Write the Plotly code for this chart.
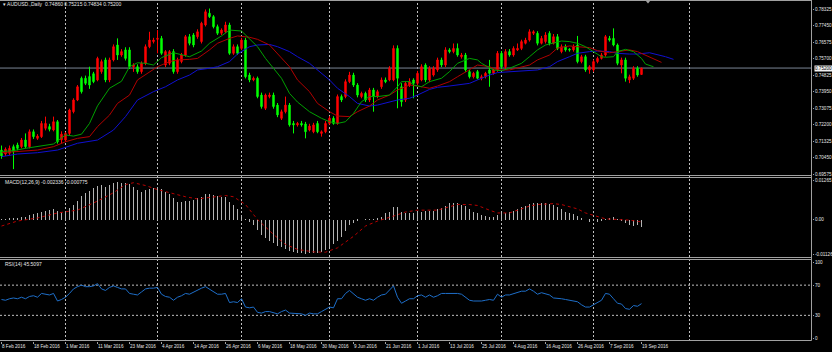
import plotly.graph_objects as go

# ---------------- data ----------------
open_ = [0.7086, 0.7065, 0.7069, 0.7104, 0.7113, 0.7104, 0.7139, 0.7104, 0.7183, 0.7148,
         0.7157, 0.7201, 0.7210, 0.7192, 0.7236, 0.7140, 0.7139, 0.7174, 0.7289, 0.7351,
         0.7466, 0.7466, 0.7475, 0.7490, 0.7457, 0.7501, 0.7563, 0.7457, 0.7563, 0.7642,
         0.7589, 0.7616, 0.7616, 0.7527, 0.7527, 0.7501, 0.7545, 0.7633, 0.7660, 0.7672,
         0.7677, 0.7536, 0.7545, 0.7607, 0.7501, 0.7554, 0.7589, 0.7686, 0.7695, 0.7686,
         0.7660, 0.7748, 0.7810, 0.7792, 0.7739, 0.7704, 0.7712, 0.7748, 0.7598, 0.7633,
         0.7624, 0.7668, 0.7483, 0.7457, 0.7466, 0.7377, 0.7307, 0.7369, 0.7377, 0.7324,
         0.7254, 0.7289, 0.7324, 0.7227, 0.7219, 0.7227, 0.7224, 0.7192, 0.7183, 0.7227,
         0.7174, 0.7183, 0.7227, 0.7254, 0.7227, 0.7369, 0.7369, 0.7448, 0.7483, 0.7430,
         0.7369, 0.7386, 0.7351, 0.7404, 0.7369, 0.7421, 0.7457, 0.7457, 0.7457, 0.7624,
         0.7421, 0.7351, 0.7430, 0.7457, 0.7439, 0.7457, 0.7536, 0.7457, 0.7483, 0.7510,
         0.7563, 0.7536, 0.7616, 0.7607, 0.7624, 0.7580, 0.7589, 0.7501, 0.7474, 0.7501,
         0.7466, 0.7474, 0.7510, 0.7492, 0.7510, 0.7598, 0.7527, 0.7607, 0.7589, 0.7616,
         0.7624, 0.7651, 0.7668, 0.7704, 0.7704, 0.7651, 0.7660, 0.7704, 0.7651, 0.7686,
         0.7607, 0.7633, 0.7620, 0.7616, 0.7642, 0.7554, 0.7580, 0.7510, 0.7510, 0.7554,
         0.7571, 0.7589, 0.7677, 0.7677, 0.7642, 0.7536, 0.7563, 0.7457, 0.7466, 0.7519,
         0.74860]
high = [0.7110, 0.7100, 0.7110, 0.7115, 0.7125, 0.7150, 0.7174, 0.7195, 0.7195, 0.7170,
        0.7240, 0.7263, 0.7225, 0.7263, 0.7245, 0.7185, 0.7180, 0.7305, 0.7360, 0.7430,
        0.7475, 0.7480, 0.7527, 0.7500, 0.7580, 0.7565, 0.7575, 0.7575, 0.7645, 0.7677,
        0.7620, 0.7630, 0.7630, 0.7545, 0.7540, 0.7555, 0.7645, 0.7712, 0.7680, 0.7721,
        0.7690, 0.7615, 0.7615, 0.7620, 0.7575, 0.7600, 0.7695, 0.7700, 0.7705, 0.7725,
        0.7765, 0.7830, 0.7835, 0.7800, 0.7750, 0.7730, 0.7765, 0.7760, 0.7645, 0.7645,
        0.7680, 0.7680, 0.7495, 0.7475, 0.7475, 0.7390, 0.7385, 0.7390, 0.7390, 0.7335,
        0.7300, 0.7369, 0.7335, 0.7240, 0.7235, 0.7240, 0.7235, 0.7225, 0.7230, 0.7240,
        0.7190, 0.7240, 0.7265, 0.7265, 0.7380, 0.7380, 0.7460, 0.7500, 0.7495, 0.7440,
        0.7395, 0.7395, 0.7415, 0.7415, 0.7405, 0.7470, 0.7470, 0.7530, 0.7640, 0.7640,
        0.7440, 0.7450, 0.7466, 0.7466, 0.7505, 0.7540, 0.7545, 0.7530, 0.7530, 0.7575,
        0.7575, 0.7630, 0.7625, 0.7650, 0.7650, 0.7600, 0.7600, 0.7510, 0.7500, 0.7510,
        0.7485, 0.7500, 0.7563, 0.7520, 0.7610, 0.7610, 0.7620, 0.7620, 0.7635, 0.7650,
        0.7670, 0.7680, 0.7725, 0.7720, 0.7715, 0.7690, 0.7710, 0.7715, 0.7700, 0.7700,
        0.7645, 0.7645, 0.7625, 0.7645, 0.7690, 0.7590, 0.7590, 0.7535, 0.7565, 0.7580,
        0.7600, 0.7695, 0.7690, 0.7730, 0.7650, 0.7575, 0.7575, 0.7485, 0.7530, 0.7530,
        0.75215]
low = [0.7040, 0.7055, 0.7060, 0.6985, 0.7085, 0.7095, 0.7095, 0.7095, 0.7145, 0.7140,
       0.7150, 0.7190, 0.7185, 0.7185, 0.7120, 0.7120, 0.7130, 0.7165, 0.7280, 0.7345,
       0.7385, 0.7430, 0.7410, 0.7440, 0.7450, 0.7490, 0.7445, 0.7445, 0.7555, 0.7563,
       0.7580, 0.7560, 0.7515, 0.7500, 0.7490, 0.7490, 0.7535, 0.7625, 0.7650, 0.7598,
       0.7590, 0.7525, 0.7535, 0.7490, 0.7490, 0.7545, 0.7580, 0.7640, 0.7630, 0.7675,
       0.7650, 0.7740, 0.7785, 0.7730, 0.7695, 0.7695, 0.7705, 0.7590, 0.7590, 0.7590,
       0.7615, 0.7465, 0.7445, 0.7450, 0.7360, 0.7305, 0.7298, 0.7360, 0.7305, 0.7260,
       0.7245, 0.7280, 0.7210, 0.7174, 0.7210, 0.7210, 0.7148, 0.7185, 0.7175, 0.7175,
       0.7157, 0.7175, 0.7220, 0.7220, 0.7220, 0.7340, 0.7360, 0.7440, 0.7420, 0.7365,
       0.7360, 0.7340, 0.7340, 0.7289, 0.7360, 0.7410, 0.7440, 0.7450, 0.7450, 0.7307,
       0.7316, 0.7340, 0.7420, 0.7360, 0.7430, 0.7450, 0.7445, 0.7445, 0.7475, 0.7500,
       0.7525, 0.7525, 0.7598, 0.7598, 0.7580, 0.7570, 0.7500, 0.7465, 0.7465, 0.7460,
       0.7455, 0.7465, 0.7421, 0.7485, 0.7500, 0.7515, 0.7515, 0.7580, 0.7580, 0.7610,
       0.7615, 0.7645, 0.7660, 0.7695, 0.7640, 0.7645, 0.7650, 0.7640, 0.7645, 0.7615,
       0.7598, 0.7607, 0.7607, 0.7607, 0.7545, 0.7545, 0.7500, 0.7490, 0.7500, 0.7545,
       0.7565, 0.7580, 0.7660, 0.7635, 0.7535, 0.7492, 0.7448, 0.7440, 0.7457, 0.7474,
       0.74834]
close = [0.7055, 0.7090, 0.7095, 0.7078, 0.7095, 0.7139, 0.7104, 0.7183, 0.7157, 0.7160,
         0.7227, 0.7227, 0.7196, 0.7236, 0.7130, 0.7170, 0.7174, 0.7298, 0.7351, 0.7421,
         0.7395, 0.7439, 0.7430, 0.7448, 0.7571, 0.7554, 0.7457, 0.7563, 0.7633, 0.7589,
         0.7607, 0.7571, 0.7527, 0.7536, 0.7501, 0.7545, 0.7633, 0.7668, 0.7668, 0.7677,
         0.7598, 0.7607, 0.7607, 0.7501, 0.7563, 0.7589, 0.7686, 0.7651, 0.7642, 0.7712,
         0.7757, 0.7818, 0.7792, 0.7739, 0.7704, 0.7721, 0.7748, 0.7598, 0.7633, 0.7598,
         0.7668, 0.7474, 0.7457, 0.7466, 0.7369, 0.7316, 0.7377, 0.7377, 0.7316, 0.7272,
         0.7289, 0.7324, 0.7219, 0.7219, 0.7227, 0.7219, 0.7183, 0.7213, 0.7219, 0.7183,
         0.7183, 0.7227, 0.7254, 0.7227, 0.7369, 0.7351, 0.7448, 0.7483, 0.7430, 0.7377,
         0.7386, 0.7351, 0.7404, 0.7369, 0.7395, 0.7457, 0.7448, 0.7519, 0.7624, 0.7466,
         0.7342, 0.7439, 0.7448, 0.7439, 0.7492, 0.7527, 0.7457, 0.7519, 0.7519, 0.7563,
         0.7536, 0.7616, 0.7607, 0.7624, 0.7589, 0.7589, 0.7510, 0.7474, 0.7492, 0.7466,
         0.7474, 0.7492, 0.7492, 0.7510, 0.7598, 0.7527, 0.7607, 0.7589, 0.7624, 0.7624,
         0.7660, 0.7668, 0.7712, 0.7712, 0.7651, 0.7677, 0.7695, 0.7651, 0.7686, 0.7624,
         0.7633, 0.7616, 0.7616, 0.7633, 0.7554, 0.7580, 0.7510, 0.7527, 0.7554, 0.7571,
         0.7589, 0.7686, 0.7668, 0.7642, 0.7545, 0.7563, 0.7466, 0.7474, 0.7519, 0.7483,
         0.75200]
bars = list(range(len(close)))

tick_bars = list(range(0, 161, 8))
tick_labels = ["8 Feb 2016", "18 Feb 2016", "1 Mar 2016", "11 Mar 2016", "23 Mar 2016",
               "4 Apr 2016", "14 Apr 2016", "26 Apr 2016", "6 May 2016", "18 May 2016",
               "30 May 2016", "9 Jun 2016", "21 Jun 2016", "1 Jul 2016", "13 Jul 2016",
               "25 Jul 2016", "4 Aug 2016", "16 Aug 2016", "26 Aug 2016", "7 Sep 2016",
               "19 Sep 2016"]
month_start_bars = [16, 39, 60, 82, 104, 125, 148, 172]

# Alligator lines
lips_x = [0, 3, 6, 9, 13, 16, 18, 20, 22, 24, 27, 30, 32, 34, 36, 38, 40, 43, 45, 47, 50, 52,
          55, 57, 60, 61, 64, 66, 68, 70, 72, 74, 77, 80, 82, 84, 86, 88, 90, 92, 94, 97, 99,
          100, 102, 103, 105, 107, 110, 112, 114, 117, 119, 120, 123, 125, 127, 130, 132, 134,
          136, 138, 140, 142, 144, 146, 148, 150, 151, 153, 154, 156, 158, 160, 161, 163]
lips_y = [0.7078, 0.7083, 0.7095, 0.7104, 0.7118, 0.7166, 0.7160, 0.7170, 0.7227, 0.7320,
          0.7413, 0.7450, 0.7527, 0.7548, 0.7545, 0.7536, 0.7575, 0.7601, 0.7589, 0.7580,
          0.7610, 0.7651, 0.7690, 0.7721, 0.7716, 0.7695, 0.7633, 0.7571, 0.7518, 0.7466,
          0.7386, 0.7340, 0.7289, 0.7254, 0.7236, 0.7227, 0.7236, 0.7280, 0.7342, 0.7369,
          0.7369, 0.7377, 0.7421, 0.7448, 0.7448, 0.7430, 0.7421, 0.7448, 0.7466, 0.7501,
          0.7545, 0.7571, 0.7563, 0.7545, 0.7510, 0.7506, 0.7519, 0.7545, 0.7580, 0.7616,
          0.7642, 0.7654, 0.7663, 0.7660, 0.7651, 0.7633, 0.7607, 0.7580, 0.7577, 0.7580,
          0.7607, 0.7619, 0.7607, 0.7571, 0.7541, 0.7527]
teeth_x = [0, 4, 9, 13, 16, 19, 22, 24, 27, 29, 32, 34, 37, 39, 42, 44, 47, 49, 52, 54, 57,
           59, 62, 64, 67, 69, 72, 74, 77, 79, 82, 84, 87, 89, 92, 94, 97, 99, 102, 104, 107,
           109, 112, 114, 117, 119, 122, 124, 127, 129, 132, 134, 137, 139, 142, 144, 147, 149,
           152, 154, 157, 159, 162, 165]
teeth_y = [0.7072, 0.7078, 0.7086, 0.7104, 0.7130, 0.7148, 0.7157, 0.7210, 0.7271, 0.7333,
           0.7377, 0.7457, 0.7501, 0.7527, 0.7554, 0.7563, 0.7566, 0.7571, 0.7616, 0.7651,
           0.7677, 0.7690, 0.7683, 0.7672, 0.7642, 0.7598, 0.7527, 0.7457, 0.7395, 0.7333,
           0.7289, 0.7266, 0.7263, 0.7289, 0.7319, 0.7351, 0.7377, 0.7404, 0.7430, 0.7425,
           0.7413, 0.7425, 0.7448, 0.7474, 0.7510, 0.7536, 0.7527, 0.7510, 0.7510, 0.7519,
           0.7536, 0.7563, 0.7589, 0.7626, 0.7637, 0.7633, 0.7628, 0.7612, 0.7601, 0.7607,
           0.7616, 0.7607, 0.7580, 0.7550]
jaw_x = [0, 4, 9, 14, 19, 24, 28, 31, 34, 38, 41, 44, 47, 49, 52, 54, 57, 59, 62, 64, 67, 69,
         72, 74, 77, 79, 82, 84, 87, 89, 92, 94, 97, 99, 102, 104, 107, 109, 112, 114, 117, 119,
         122, 124, 127, 129, 132, 134, 137, 139, 142, 144, 147, 149, 152, 154, 157, 159, 162,
         164, 166, 168]
jaw_y = [0.7051, 0.7065, 0.7072, 0.7086, 0.7122, 0.7139, 0.7192, 0.7263, 0.7351, 0.7395,
         0.7421, 0.7457, 0.7483, 0.7510, 0.7519, 0.7527, 0.7554, 0.7594, 0.7633, 0.7642,
         0.7645, 0.7633, 0.7607, 0.7580, 0.7545, 0.7510, 0.7457, 0.7413, 0.7369, 0.7333,
         0.7319, 0.7324, 0.7342, 0.7351, 0.7360, 0.7377, 0.7407, 0.7418, 0.7425, 0.7430,
         0.7439, 0.7457, 0.7483, 0.7496, 0.7501, 0.7504, 0.7506, 0.7510, 0.7527, 0.7554,
         0.7580, 0.7598, 0.7607, 0.7610, 0.7607, 0.7598, 0.7594, 0.7594, 0.7601, 0.7592,
         0.7580, 0.7566]

macd_hist = [0.0002, 0.0003, 0.0004, 0.0005, 0.0007, 0.0010, 0.0011, 0.0016, 0.0018, 0.0021,
             0.0025, 0.0030, 0.0032, 0.0034, 0.0028, 0.0027, 0.0030, 0.0037, 0.0048, 0.0061,
             0.0077, 0.0086, 0.0094, 0.0102, 0.0109, 0.0112, 0.0107, 0.0112, 0.0120, 0.0122,
             0.0120, 0.0118, 0.0116, 0.0107, 0.0096, 0.0091, 0.0096, 0.0098, 0.0102, 0.0105,
             0.0098, 0.0091, 0.0083, 0.0070, 0.0059, 0.0059, 0.0061, 0.0062, 0.0064, 0.0070,
             0.0075, 0.0082, 0.0083, 0.0080, 0.0077, 0.0075, 0.0073, 0.0059, 0.0048, 0.0034,
             0.0016, 0.0002, -0.0005, -0.0016, -0.0032, -0.0048, -0.0059, -0.0067, -0.0075, -0.0083,
             -0.0088, -0.0094, -0.0100, -0.0104, -0.0107, -0.0105, -0.0109, -0.0107, -0.0107, -0.0105,
             -0.0102, -0.0096, -0.0086, -0.0077, -0.0066, -0.0054, -0.0034, -0.0016, -0.0009, -0.0003,
             0.0000, 0.0002, 0.0001, 0.0002, 0.0005, 0.0011, 0.0021, 0.0027, 0.0041, 0.0041,
             0.0027, 0.0024, 0.0021, 0.0021, 0.0027, 0.0027, 0.0030, 0.0030, 0.0029, 0.0034,
             0.0037, 0.0045, 0.0054, 0.0056, 0.0056, 0.0048, 0.0045, 0.0034, 0.0027, 0.0021,
             0.0016, 0.0013, 0.0011, 0.0011, 0.0016, 0.0021, 0.0024, 0.0027, 0.0030, 0.0034,
             0.0041, 0.0045, 0.0050, 0.0054, 0.0054, 0.0054, 0.0054, 0.0051, 0.0048, 0.0043,
             0.0034, 0.0027, 0.0024, 0.0019, 0.0013, 0.0005, 0.0000, -0.0005, 0.0000, -0.0005,
             -0.0002, 0.0002, 0.0005, 0.0009, 0.0002, -0.0002, -0.0011, -0.0016, -0.0019, -0.0016,
             -0.002336]
signal_x = [0, 4, 9, 14, 19, 24, 28, 31, 33, 36, 39, 43, 46, 49, 53, 56, 58, 61, 64, 68, 71, 74,
            78, 81, 84, 88, 91, 94, 98, 101, 104, 109, 112, 114, 117, 119, 122, 124, 127, 129,
            132, 134, 138, 140, 144, 146, 149, 151, 154, 157, 160]
signal_y = [-0.0021, -0.0005, 0.0005, 0.0021, 0.0030, 0.0059, 0.0086, 0.0112, 0.0118, 0.0109,
            0.0096, 0.0083, 0.0073, 0.0066, 0.0073, 0.0077, 0.0073, 0.0048, 0.0000, -0.0048,
            -0.0080, -0.0096, -0.0104, -0.0105, -0.0091, -0.0054, -0.0021, -0.0005, 0.0011, 0.0024,
            0.0030, 0.0030, 0.0041, 0.0048, 0.0048, 0.0045, 0.0030, 0.0021, 0.0021, 0.0030,
            0.0043, 0.0048, 0.0051, 0.0048, 0.0034, 0.0021, 0.0009, 0.0002, 0.0000, -0.0002,
            -0.000775]

rsi = [51, 50, 52, 53, 52, 54, 52, 55, 56, 54, 59, 58, 57, 59, 49, 51, 54, 59, 65, 68,
       70, 68, 68, 69, 72, 65, 63, 67, 69, 67, 65, 65, 59, 58, 57, 61, 65, 66, 66, 67,
       58, 55, 54, 50, 54, 56, 59, 58, 61, 63, 66, 68, 65, 61, 58, 58, 59, 47, 48, 47,
       52, 41, 40, 41, 34, 33, 35, 35, 33, 32, 35, 37, 33, 33, 33, 32, 30, 33, 32, 32,
       35, 38, 41, 40, 52, 52, 59, 63, 58, 54, 52, 50, 52, 50, 54, 57, 58, 63, 69, 54,
       46, 49, 52, 52, 56, 57, 54, 57, 54, 56, 59, 59, 59, 60, 59, 58, 54, 50, 49, 49,
       49, 50, 51, 50, 58, 54, 57, 57, 59, 61, 62, 62, 65, 62, 58, 60, 59, 57, 53, 52,
       52, 51, 50, 49, 48, 44, 41, 41, 44, 47, 50, 59, 58, 52, 46, 45, 39, 38, 43, 42,
       45.5097]

price_ticks = [0.78325, 0.77450, 0.76575, 0.75700, 0.74825, 0.73950, 0.73075, 0.72200,
               0.71325, 0.70450, 0.69575]
macd_ticks = [0.01265, 0.0, -0.01126]
macd_tick_text = ["0.01265", "0.00", "-0.01126"]
rsi_ticks = [100, 70, 30, 0]
rsi_levels = [70, 30]

# ---------------- layout geometry ----------------
W, H = 832, 352
PW = 812          # plot width in px
MB = 11           # bottom margin
PH = H - MB       # plot height in px
BG = "#000000"
FG = "#e6e6e6"
FRAME = "#a0a0a0"
GRID = "#c0c0c0"
FONT = "Liberation Sans Narrow, Liberation Sans, Arial, sans-serif"
FS = 4.6


def py(p):  # pixel row -> paper y
    return 1 - p / PH


def px(p):  # pixel column -> paper x
    return p / PW


main_dom = [py(175.5), py(0.5)]
macd_dom = [py(257.5), py(177.5)]
rsi_dom = [py(341), py(259.5)]

fig = go.Figure()

fig.add_trace(go.Candlestick(
    x=bars, open=open_, high=high, low=low, close=close,
    increasing=dict(line=dict(color="#ff0000", width=1), fillcolor="#ff0000"),
    decreasing=dict(line=dict(color="#00ff00", width=1), fillcolor="#00ff00"),
    whiskerwidth=0, xaxis="x", yaxis="y", hoverinfo="skip", showlegend=False))

for xs, ys, col in [(jaw_x, jaw_y, "#1010d0"), (teeth_x, teeth_y, "#b00000"),
                    (lips_x, lips_y, "#00a000")]:
    fig.add_trace(go.Scatter(x=xs, y=ys, mode="lines", line=dict(color=col, width=1),
                             xaxis="x", yaxis="y", hoverinfo="skip", showlegend=False))

fig.add_trace(go.Bar(x=bars, y=macd_hist, width=0.25,
                     marker=dict(color="#b4b4b4", line=dict(width=0)),
                     xaxis="x", yaxis="y2", hoverinfo="skip", showlegend=False))
fig.add_trace(go.Scatter(x=signal_x, y=signal_y, mode="lines",
                         line=dict(color="#b80000", width=1, dash="dot"),
                         xaxis="x", yaxis="y2", hoverinfo="skip", showlegend=False))

fig.add_trace(go.Scatter(x=bars, y=rsi, mode="lines", line=dict(color="#1e6ec8", width=1),
                         xaxis="x", yaxis="y3", hoverinfo="skip", showlegend=False))

shapes = []
# month grid lines
for b in month_start_bars:
    shapes.append(dict(type="line", xref="x", yref="paper", x0=b, x1=b, y0=0, y1=1,
                       line=dict(color=GRID, width=1, dash="2px,2px"), layer="below"))
# RSI levels
for lv in rsi_levels:
    shapes.append(dict(type="line", xref="paper", yref="y3", x0=0, x1=1, y0=lv, y1=lv,
                       line=dict(color=GRID, width=1, dash="2px,2px"), layer="below"))
# bid line
shapes.append(dict(type="line", xref="paper", yref="y", x0=0, x1=1, y0=close[-1], y1=close[-1],
                   line=dict(color="#7a8696", width=1), layer="below"))
# frames
for yy in [0.5, 175.5, 177.5, 257.5, 259.5, 340.5]:
    shapes.append(dict(type="line", xref="paper", yref="paper", x0=0, x1=px(811.5),
                       y0=py(yy), y1=py(yy), line=dict(color=FRAME, width=1)))
shapes.append(dict(type="line", xref="paper", yref="paper", x0=px(811.5), x1=px(811.5),
                   y0=py(340.5), y1=py(0), line=dict(color=FRAME, width=1)))
# chart shift marker
shapes.append(dict(type="path", xref="paper", yref="paper",
                   path=f"M {px(645.5)} {py(0.5)} L {px(650.5)} {py(0.5)} L {px(648)} {py(3.5)} Z",
                   fillcolor="#a0a0a0", line=dict(width=0)))

font = dict(family=FONT, size=FS, color=FG)
annotations = [
    dict(xref="paper", yref="paper", x=px(1), y=py(4.5), xanchor="left", yanchor="middle",
         showarrow=False, font=dict(family=FONT, size=5, color=FG),
         text=f"▾ AUDUSD.,Daily  {open_[-1]:.5f} {high[-1]:.5f} {low[-1]:.5f} {close[-1]:.5f}"),
    dict(xref="paper", yref="paper", x=px(3), y=py(182), xanchor="left", yanchor="middle",
         showarrow=False, font=dict(family=FONT, size=5, color=FG),
         text=f"MACD(12,26,9) {macd_hist[-1]:.6f} {signal_y[-1]:.6f}"),
    dict(xref="paper", yref="paper", x=px(3), y=py(264), xanchor="left", yanchor="middle",
         showarrow=False, font=dict(family=FONT, size=5, color=FG),
         text=f"RSI(14) {rsi[-1]:.4f}"),
    dict(xref="paper", yref="y", x=px(814), y=close[-1], xanchor="left", yanchor="middle",
         showarrow=False, text=f"{close[-1]:.5f}", bgcolor="#f0f0f0",
         font=dict(family=FONT, size=FS, color="#000000"), borderpad=0),
]

axis_common = dict(showgrid=False, zeroline=False, showline=False, fixedrange=True,
                   tickfont=font, ticks="outside", ticklen=1, tickcolor=FRAME, tickwidth=1)

fig.update_layout(
    width=W, height=H,
    margin=dict(l=0, r=W - PW, t=0, b=MB, autoexpand=False),
    paper_bgcolor=BG, plot_bgcolor=BG,
    showlegend=False, hovermode=False, boxgap=0.5, bargap=0,
    xaxis=dict(axis_common, range=[-0.375, -0.375 + PW / 4], anchor="y3",
               tickvals=tick_bars, ticktext=tick_labels, ticklabelposition="outside right",
               tickangle=0, rangeslider=dict(visible=False), ticklen=2),
    yaxis=dict(axis_common, domain=main_dom, anchor="x", side="right",
               range=[0.78325 - 175.5 / 1889.5 + 9 / 1889.5, 0.78325 + 8.5 / 1889.5],
               tickvals=price_ticks, ticktext=[f"{v:.5f}" for v in price_ticks]),
    yaxis2=dict(axis_common, domain=macd_dom, anchor="x", side="right",
                range=[-0.01220, 0.01348], tickvals=macd_ticks, ticktext=macd_tick_text),
    yaxis3=dict(axis_common, domain=rsi_dom, anchor="x", side="right",
                range=[-3.97, 103.97], tickvals=rsi_ticks,
                ticktext=[str(v) for v in rsi_ticks]),
    shapes=shapes, annotations=annotations,
)

fig.write_html("out.html")
